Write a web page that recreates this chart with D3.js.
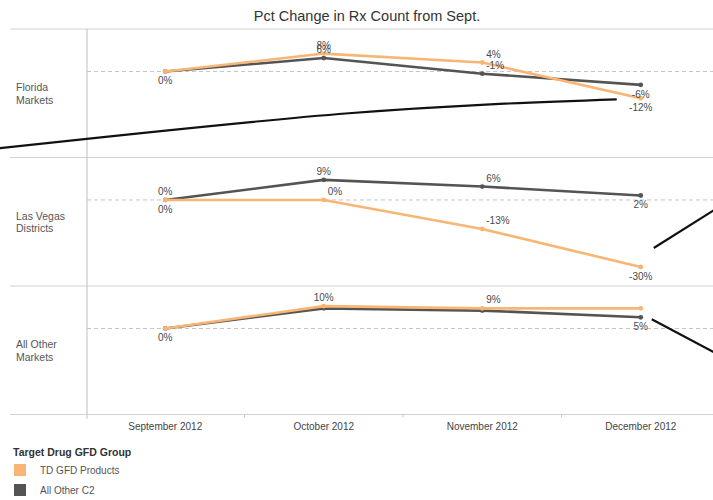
<!DOCTYPE html>
<html>
<head>
<meta charset="utf-8">
<script src="https://cdn.jsdelivr.net/npm/d3@7/dist/d3.min.js"></script>
<style>
	html, body { margin: 0; padding: 0; background: #fff; }
	svg { display: block; font-family: "Liberation Sans", Arial, sans-serif; }
</style>
</head>
<body>
<svg id="chart" width="713" height="500"></svg>
<script>
var months = ['September 2012', 'October 2012', 'November 2012', 'December 2012'];
var markets = [['Florida', 'Markets'], ['Las Vegas', 'Districts'], ['All Other', 'Markets']];
var seriesNames = ['TD GFD Products', 'All Other C2'];
var seriesColors = ['#f8b574', '#545454'];

// pct change per market, Sept..Dec
var tdGfdValues = [
	[0, 8, 4, -12],
	[0, 0, -13, -30],
	[0, 10, 9, 9]
];
var allOtherC2Values = [
	[0, 6, -1, -6],
	[0, 9, 6, 2],
	[0, 9, 8, 5]
];
var yDomain = [-38.5, 19];

// which labels tableau kept: [market, series, month, side, align]
var shownLabels = [
	[0, 1, 0, 'below', 'middle'], [0, 0, 1, 'above', 'middle'], [0, 1, 1, 'above', 'middle'],
	[0, 0, 2, 'above', 'start'], [0, 1, 2, 'above', 'start'], [0, 1, 3, 'below', 'middle'], [0, 0, 3, 'below', 'middle'],
	[1, 1, 0, 'above', 'middle'], [1, 0, 0, 'below', 'middle'], [1, 1, 1, 'above', 'middle'], [1, 0, 1, 'above', 'start'],
	[1, 1, 2, 'above', 'start'], [1, 0, 2, 'above', 'start'], [1, 1, 3, 'below', 'middle'], [1, 0, 3, 'below', 'middle'],
	[2, 1, 0, 'below', 'middle'], [2, 0, 1, 'above', 'middle'], [2, 0, 2, 'above', 'start'], [2, 1, 3, 'below', 'middle']
];

(function(d3) {
	'use strict';

	var svg = d3.select('#chart');
	var width = 713;
	var plotLeft = 86, plotRight = 720;
	var panelTop = 29, panelHeight = 128.5;
	var panelBottom = panelTop + panelHeight * markets.length;
	var seriesValues = [tdGfdValues, allOtherC2Values];

	var x = d3.scaleBand().domain(months).range([plotLeft, plotRight]);
	var y = d3.scaleLinear().domain(yDomain).range([panelHeight, 0]);
	var panelY = function(i) {
		return panelTop + i * panelHeight;
	};
	var px = function(m) {
		return x(months[m]) + x.bandwidth() / 2;
	};
	var py = function(market, value) {
		return panelY(market) + y(value);
	};

	/** title */
	svg.append('text').attr('x', 367).attr('y', 21).attr('text-anchor', 'middle')
		.attr('font-size', 14.5).attr('fill', '#333').text('Pct Change in Rx Count from Sept.');

	/** grid */
	var grid = svg.append('g');
	d3.range(markets.length + 1).forEach(function(i) {
		grid.append('line').attr('x1', 10).attr('x2', width)
			.attr('y1', panelY(i)).attr('y2', panelY(i))
			.attr('stroke', '#d2d2d2').attr('stroke-width', 1.2);
	});
	grid.append('line').attr('x1', plotLeft + 1).attr('x2', plotLeft + 1)
		.attr('y1', panelTop).attr('y2', panelBottom + 4)
		.attr('stroke', '#c8c8c8').attr('stroke-width', 1.2);
	markets.forEach(function(m, i) {
		grid.append('line').attr('x1', plotLeft + 1).attr('x2', width)
			.attr('y1', py(i, 0)).attr('y2', py(i, 0))
			.attr('stroke', '#c4c4c4').attr('stroke-dasharray', '4,3');
	});

	/** x axis */
	var axis = d3.axisBottom(x).tickSize(0).tickPadding(8);
	var axisG = svg.append('g').attr('transform', 'translate(0,' + panelBottom + ')').call(axis);
	axisG.select('.domain').remove();
	axisG.selectAll('text').attr('font-size', 10).attr('fill', '#444').attr('font-family', null);
	axisG.selectAll('.sep').data(months.slice(1)).enter().append('line')
		.attr('x1', function(m) { return x(m); }).attr('x2', function(m) { return x(m); })
		.attr('y1', 0).attr('y2', 3).attr('stroke', '#c8c8c8');

	/** row labels */
	markets.forEach(function(lines, i) {
		var mid = panelY(i) + panelHeight / 2;
		var t = svg.append('text').attr('x', 16).attr('font-size', 10.5).attr('fill', '#555');
		lines.forEach(function(line, j) {
			t.append('tspan').attr('x', 16).attr('y', mid - 2 + j * 12.5).text(line);
		});
	});

	/** lines */
	var line = d3.line()
		.x(function(d, i) { return px(i); })
		.y(function(d) { return d.y; });
	var marks = svg.append('g');
	[1, 0].forEach(function(s) {
		seriesValues[s].forEach(function(vals, m) {
			var pts = vals.map(function(v) { return { y: py(m, v) }; });
			marks.append('path').datum(pts).attr('d', line)
				.attr('fill', 'none').attr('stroke', seriesColors[s]).attr('stroke-width', 2.6)
				.attr('stroke-linejoin', 'round');
			marks.selectAll(null).data(pts).enter().append('circle')
				.attr('cx', function(d, i) { return px(i); })
				.attr('cy', function(d) { return d.y; })
				.attr('r', 2.4).attr('fill', seriesColors[s]);
		});
	});

	/** value labels */
	var fmt = function(v) { return v + '%'; };
	svg.append('g').selectAll('text').data(shownLabels).enter().append('text')
		.attr('font-size', 10).attr('fill', '#4a4a4a')
		.attr('text-anchor', function(d) { return d[4]; })
		.attr('x', function(d) { return px(d[2]) + (d[4] === 'start' ? 4 : 0); })
		.attr('y', function(d) {
			var cy = py(d[0], seriesValues[d[1]][d[0]][d[2]]);
			return d[3] === 'above' ? cy - 5 : cy + 13;
		})
		.text(function(d) { return fmt(seriesValues[d[1]][d[0]][d[2]]); });

	/** callout strokes pointing at december values */
	var callouts = [
		{ market: 0, series: 0, month: 3, path: [[-642, 50], [-292, 15], [-24, 1]] },
		{ market: 1, series: 0, month: 3, path: [[13, -19], [75, -58]] },
		{ market: 2, series: 1, month: 3, path: [[11, 2], [75, 36]] }
	];
	var curve = d3.line().curve(d3.curveNatural);
	callouts.forEach(function(c) {
		var cx = px(c.month), cy = py(c.market, seriesValues[c.series][c.market][c.month]);
		var pts = c.path.map(function(p) { return [cx + p[0], cy + p[1]]; });
		svg.append('path').attr('d', curve(pts)).attr('fill', 'none')
			.attr('stroke', '#111').attr('stroke-width', 2.2);
	});

	/** legend */
	var legend = svg.append('g');
	legend.append('text').attr('x', 13).attr('y', 456).attr('font-size', 10.5)
		.attr('font-weight', 'bold').attr('fill', '#333').text('Target Drug GFD Group');
	seriesNames.forEach(function(name, i) {
		legend.append('rect').attr('x', 14).attr('y', 464 + i * 20).attr('width', 12).attr('height', 12)
			.attr('fill', seriesColors[i]);
		legend.append('text').attr('x', 40).attr('y', 474 + i * 20).attr('font-size', 10)
			.attr('fill', '#555').text(name);
	});
})(d3);
</script>
</body>
</html>
